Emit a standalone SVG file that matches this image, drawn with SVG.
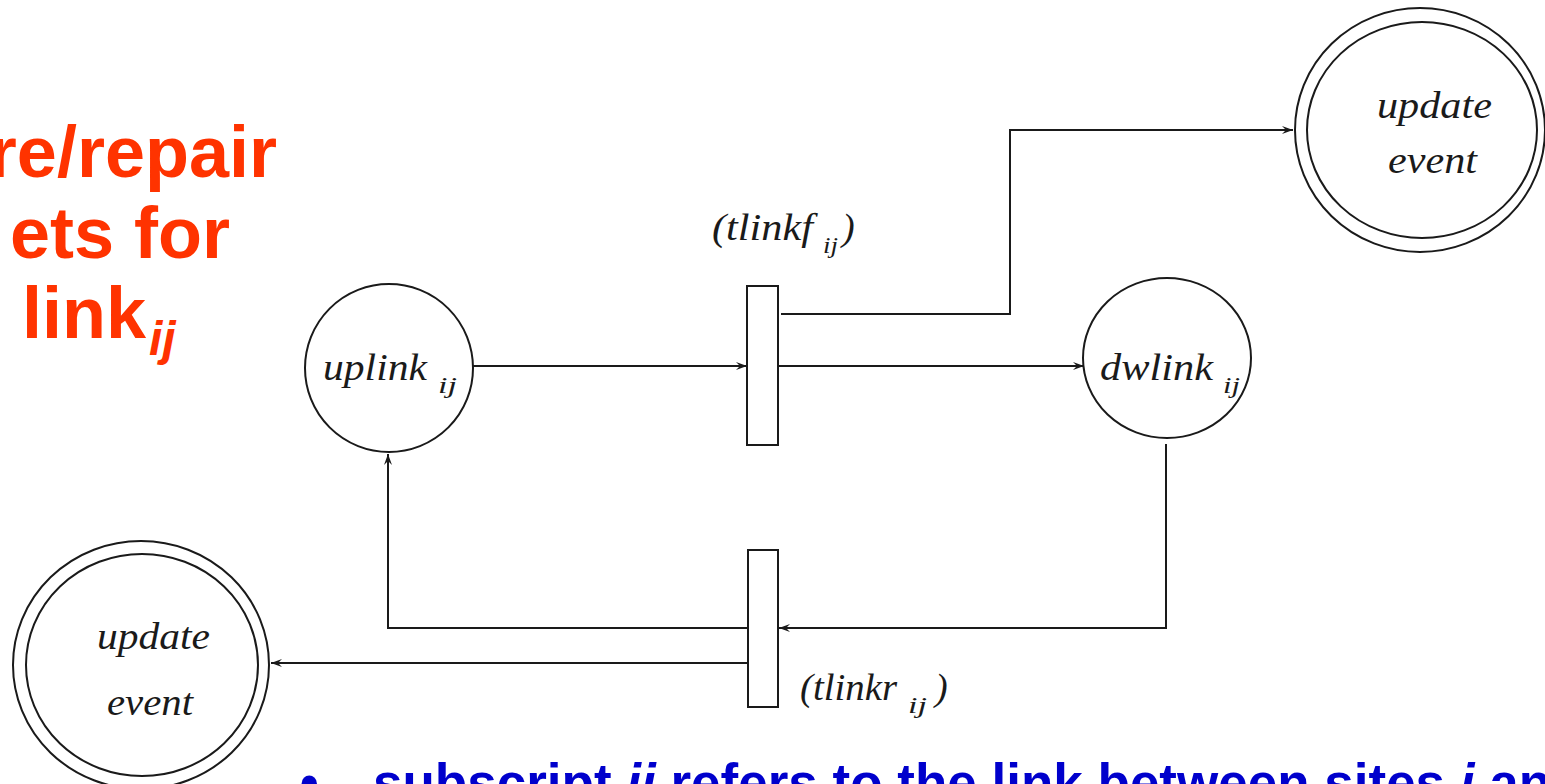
<svg xmlns="http://www.w3.org/2000/svg" width="1545" height="784" viewBox="0 0 1545 784">
<style>
.title{font-family:"Liberation Sans",Arial,sans-serif;font-weight:bold;font-size:72px;fill:#FF3300}
.lbl{font-family:"Liberation Serif","Times New Roman",serif;font-style:italic;font-size:38px;fill:#1a1a1a}
.sub{font-family:"Liberation Serif","Times New Roman",serif;font-style:italic;font-size:24px;fill:#1a1a1a}
.shape{fill:#fff;stroke:#1a1a1a;stroke-width:2}
.edge{fill:none;stroke:#1a1a1a;stroke-width:2}
.note{font-family:"Liberation Sans",Arial,sans-serif;font-weight:bold;font-size:53px;fill:#0000CC}
</style>
<defs>
<marker id="arr" markerUnits="userSpaceOnUse" markerWidth="12" markerHeight="10" refX="11" refY="5" orient="auto">
<path d="M0,1 L11,5 L0,9 L4,5 Z" fill="#1a1a1a"/>
</marker>
</defs>
<rect width="1545" height="784" fill="#fff"/>

<g id="title">
<text class="title" x="277" y="177" text-anchor="end">re/repair</text>
<text class="title" x="230" y="258" text-anchor="end">ets for</text>
<text class="title" x="22" y="338">link<tspan font-size="48" font-style="italic" dx="3" dy="17">ij</tspan></text>
</g>

<g id="connectors">
<line class="edge" x1="473" y1="366" x2="747" y2="366" marker-end="url(#arr)"/>
<line class="edge" x1="778" y1="366" x2="1084" y2="366" marker-end="url(#arr)"/>
<polyline class="edge" points="781,314 1010,314 1010,130 1293,130" marker-end="url(#arr)"/>
<polyline class="edge" points="1166,444 1166,628 779,628" marker-end="url(#arr)"/>
<polyline class="edge" points="748,628 388,628 388,454" marker-end="url(#arr)"/>
<line class="edge" x1="748" y1="663" x2="271" y2="663" marker-end="url(#arr)"/>
</g>

<g id="uplink">
<circle class="shape" cx="389" cy="368" r="84"/>
<text class="lbl" x="323" y="380" textLength="104" lengthAdjust="spacingAndGlyphs">uplink</text>
<text class="sub" x="438" y="393" textLength="19" lengthAdjust="spacingAndGlyphs">ij</text>
</g>

<g id="dwlink">
<ellipse class="shape" cx="1167" cy="358" rx="84" ry="80"/>
<text class="lbl" x="1100" y="380" textLength="113" lengthAdjust="spacingAndGlyphs">dwlink</text>
<text class="sub" x="1223" y="393" textLength="17" lengthAdjust="spacingAndGlyphs">ij</text>
</g>

<g id="tlinkf">
<rect class="shape" x="747" y="286" width="31" height="159"/>
<text class="lbl" x="712" y="240" textLength="101" lengthAdjust="spacingAndGlyphs">(tlinkf</text>
<text class="sub" x="823" y="253" textLength="15" lengthAdjust="spacingAndGlyphs">ij</text>
<text class="lbl" x="842" y="240">)</text>
</g>

<g id="tlinkr">
<rect class="shape" x="748" y="550" width="30" height="157"/>
<text class="lbl" x="800" y="700" textLength="97" lengthAdjust="spacingAndGlyphs">(tlinkr</text>
<text class="sub" x="908" y="713" textLength="19" lengthAdjust="spacingAndGlyphs">ij</text>
<text class="lbl" x="935" y="700">)</text>
</g>

<g id="update-top">
<ellipse class="shape" cx="1420" cy="130" rx="125" ry="122"/>
<ellipse class="shape" cx="1422" cy="130" rx="115" ry="108"/>
<text class="lbl" x="1377" y="118" textLength="115" lengthAdjust="spacingAndGlyphs">update</text>
<text class="lbl" x="1388" y="173" textLength="89" lengthAdjust="spacingAndGlyphs">event</text>
</g>

<g id="update-bottom">
<ellipse class="shape" cx="141" cy="665" rx="128" ry="124"/>
<ellipse class="shape" cx="142" cy="665" rx="116" ry="111"/>
<text class="lbl" x="97" y="649" textLength="113" lengthAdjust="spacingAndGlyphs">update</text>
<text class="lbl" x="107" y="715" textLength="86" lengthAdjust="spacingAndGlyphs">event</text>
</g>

<g id="note">
<text class="note" x="300" y="801">•</text>
<text class="note" x="373" y="801">subscript <tspan font-style="italic">ij</tspan> refers to the link between sites <tspan font-style="italic">i</tspan> an</text>
</g>
</svg>
